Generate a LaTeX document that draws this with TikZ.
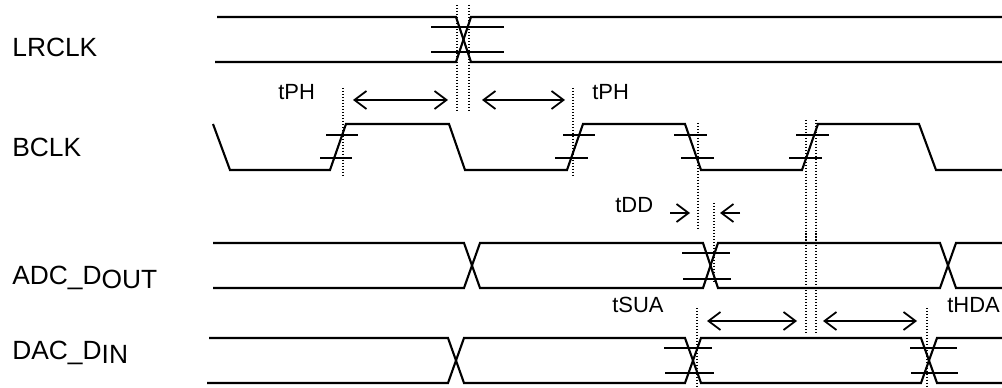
\documentclass[tikz,border=0pt]{standalone}
\usepackage{fontspec}
\setmainfont{Liberation Sans}
\usetikzlibrary{arrows.meta}
\begin{document}
\begin{tikzpicture}[x=0.02cm, y=-0.02cm,
    wave/.style={line width=1.2pt},
    thr/.style={line width=1.2pt},
    vdot/.style={line width=0.6pt, dash pattern=on 0.6pt off 1.1pt},
    dimarr/.style={line width=1pt, {Straight Barb[length=2.4mm,width=3.6mm]}-{Straight Barb[length=2.4mm,width=3.6mm]}},
    onearr/.style={line width=1pt, -{Straight Barb[length=2.4mm,width=3.6mm]}},
    sig/.style={anchor=base west, inner sep=0pt, font=\fontsize{15}{18}\selectfont},
    tlab/.style={anchor=base west, inner sep=0pt, font=\fontsize{12.5}{15}\selectfont}]
    \useasboundingbox (0,0) rectangle (1002,388);

    % Signal names
    \node[sig] (lrclk) at (12,57) {LRCLK};
    \node[sig] (bclk) at (12,157) {BCLK};
    \node[sig] (adc) at (12,285) {ADC\_D\raisebox{-0.13em}{OUT}};
    \node[sig] (dac) at (12,360) {DAC\_D\raisebox{-0.13em}{IN}};

    % LRCLK
    \draw[wave] (217,17) -- (456,17) -- (471,62) -- (1002,62);
    \draw[wave] (215,62) -- (456,62) -- (471,17) -- (1002,17);
    \draw[thr] (431,27) -- (504,27); \draw[thr] (431,52) -- (504,52);
    \draw[vdot] (457,5) -- (457,110); \draw[vdot] (469,5) -- (469,110);

    % BCLK
    \draw[wave] (213,124) -- (230,170) -- (330,170) -- (346,124) -- (449,124)
        -- (465,170) -- (567,170) -- (583,124) -- (685,124) -- (701,170)
        -- (802,170) -- (818,124) -- (919,124) -- (936,170) -- (1002,170);
    \draw[thr] (326,135) -- (358,135); \draw[thr] (320,158) -- (352,158);
    \draw[thr] (563,135) -- (595,135); \draw[thr] (555,158) -- (588,158);
    \draw[thr] (674,135) -- (707,135); \draw[thr] (681,158) -- (714,158);
    \draw[thr] (796,135) -- (829,135); \draw[thr] (789,158) -- (822,158);
    \draw[vdot] (343,88) -- (343,175); \draw[vdot] (573,88) -- (573,175);
    \draw[vdot] (698,123) -- (698,228);
    \draw[vdot] (806,120) -- (806,333); \draw[vdot] (816,120) -- (816,333);

    % tPH
    \node[tlab] (tph1) at (278,100) {tPH};
    \node[tlab] (tph2) at (592,100) {tPH};
    \coordinate (ph1a) at (353,100); \coordinate (ph1b) at (448,100);
    \coordinate (ph2a) at (482,100); \coordinate (ph2b) at (565,100);
    \draw[dimarr] (ph1a) -- (ph1b);
    \draw[dimarr] (ph2a) -- (ph2b);

    % tDD
    \node[tlab] (tdd) at (615,213) {tDD};
    \coordinate (dd1a) at (670,213); \coordinate (dd1b) at (690,213);
    \coordinate (dd2a) at (740,213); \coordinate (dd2b) at (720,213);
    \draw[onearr] (dd1a) -- (dd1b);
    \draw[onearr] (dd2a) -- (dd2b);
    \draw[vdot] (714,203) -- (714,283);

    % ADC_DOUT
    \draw[wave] (213,243) -- (464,243) -- (480,288) -- (703,288) -- (718,243)
        -- (940,243) -- (956,288) -- (1002,288);
    \draw[wave] (213,288) -- (464,288) -- (480,243) -- (703,243) -- (718,288)
        -- (940,288) -- (956,243) -- (1002,243);
    \draw[thr] (682,253) -- (730,253); \draw[thr] (683,279) -- (731,279);

    % tSUA and tHDA
    \node[tlab] (tsua) at (612,313) {tSUA};
    \node[tlab] (thda) at (947,313) {tHDA};
    \coordinate (sua) at (707,321); \coordinate (sub) at (797,321);
    \coordinate (hda) at (823,321); \coordinate (hdb) at (917,321);
    \draw[dimarr] (sua) -- (sub);
    \draw[dimarr] (hda) -- (hdb);

    % DAC_DIN
    \draw[wave] (209,338) -- (448,338) -- (464,383) -- (685,383) -- (701,338)
        -- (921,338) -- (937,383) -- (1002,383);
    \draw[wave] (207,383) -- (448,383) -- (464,338) -- (685,338) -- (701,383)
        -- (921,383) -- (937,338) -- (1002,338);
    \draw[thr] (664,348) -- (712,348); \draw[thr] (665,373) -- (714,373);
    \draw[thr] (910,348) -- (957,348); \draw[thr] (911,373) -- (958,373);
    \draw[vdot] (697,308) -- (697,388); \draw[vdot] (927,308) -- (927,388);
\end{tikzpicture}
\end{document}
